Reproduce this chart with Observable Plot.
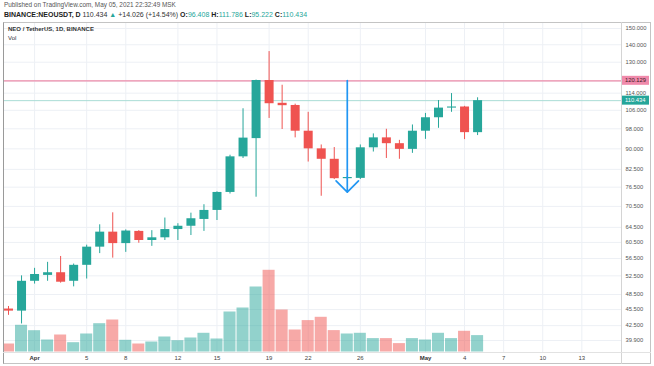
<!DOCTYPE html>
<html><head><meta charset="utf-8">
<script src="https://cdn.jsdelivr.net/npm/d3@7"></script>
<script src="https://cdn.jsdelivr.net/npm/@observablehq/plot@0.6"></script>
<style>
html,body{margin:0;padding:0;background:#fff;}
#wrap{position:relative;width:654px;height:366px;overflow:hidden;font-family:"Liberation Sans",Arial,sans-serif;}
.hdr1{position:absolute;left:4px;top:1px;font-size:6.4px;line-height:7px;color:#555;white-space:nowrap;}
.hdr2{position:absolute;left:4px;top:11px;font-size:7px;line-height:7px;color:#222;font-weight:bold;white-space:nowrap;}
.hdr2 .g{color:#26a69a;font-weight:normal;}
.hdr2 .k{font-weight:normal;color:#333;}
#frame{position:absolute;left:3px;top:22px;width:648px;height:342px;box-sizing:border-box;border:1px solid #c4c4c4;border-left-color:#9a9a9a;}
#vsep{position:absolute;left:621px;top:22px;width:1px;height:342px;background:#d4d4d4;}
#hsep{position:absolute;left:3px;top:352px;width:648px;height:1px;background:#e2e2e2;}
#price,#vol{position:absolute;left:3px;top:22px;}
.leg{position:absolute;left:8px;font-size:6px;line-height:7px;color:#333;white-space:nowrap;}
</style></head>
<body>
<div id="wrap">
  <div class="hdr1">Published on TradingView.com, May 05, 2021 22:32:49 MSK</div>
  <div class="hdr2">BINANCE:NEOUSDT, D <span class="k">110.434</span> <span class="g">▲</span> <span class="k">+14.026 (+14.54%)</span> O:<span class="g">96.408</span> H:<span class="g">111.786</span> L:<span class="g">95.222</span> C:<span class="g">110.434</span></div>
  <div id="price"></div>
  <div id="vol"></div>
  <div id="frame"></div>
  <div id="vsep"></div>
  <div id="hsep"></div>
  <div class="leg" style="top:26px;font-weight:bold;">NEO / TetherUS, 1D, BINANCE</div>
  <div class="leg" style="top:35px;">Vol</div>
</div>
<script>
// ---- data ----
const days = ["2021-03-30","2021-03-31","2021-04-01","2021-04-02","2021-04-03","2021-04-04","2021-04-05","2021-04-06","2021-04-07","2021-04-08","2021-04-09","2021-04-10","2021-04-11","2021-04-12","2021-04-13","2021-04-14","2021-04-15","2021-04-16","2021-04-17","2021-04-18","2021-04-19","2021-04-20","2021-04-21","2021-04-22","2021-04-23","2021-04-24","2021-04-25","2021-04-26","2021-04-27","2021-04-28","2021-04-29","2021-04-30","2021-05-01","2021-05-02","2021-05-03","2021-05-04","2021-05-05"];
const open  = [45.6,45.2,51.3,52.6,53.2,51.3,54.9,59.3,63.2,60.2,63.4,61.0,61.7,63.9,64.8,66.7,69.3,74.8,87.0,94.0,120.3,109.2,108.2,97.0,90.0,86.1,79.3,79.4,90.4,94.3,92.0,89.8,97.0,102.7,107.0,107.5,96.408];
const high  = [46.1,52.5,54.2,55.6,57.0,55.2,59.8,65.2,68.6,63.8,63.6,63.6,67.1,65.5,68.5,71.0,75.0,87.6,106.7,120.5,136.0,117.9,108.8,105.1,91.5,90.5,80.0,91.5,95.9,97.8,93.3,99.6,104.6,110.5,113.8,107.8,111.786];
const low   = [44.4,42.8,50.7,51.3,50.9,50.1,51.8,57.7,56.6,58.0,60.3,59.5,61.0,61.0,62.3,63.4,66.4,74.3,86.4,73.3,102.4,97.7,94.3,85.1,73.6,79.0,79.0,79.0,88.8,86.4,86.1,88.3,93.7,98.2,105.1,93.6,95.222];
const close = [45.2,51.3,52.8,53.2,51.1,54.9,59.3,63.2,60.2,63.5,61.0,61.7,63.9,64.8,66.9,69.3,74.8,87.0,94.2,120.3,109.0,108.1,97.0,90.0,86.1,79.3,79.7,90.4,94.3,92.0,89.8,97.0,102.7,107.0,107.5,96.408,110.434];
const volume = [0.90,2.77,2.23,1.30,1.80,1.03,1.90,2.93,3.30,1.27,0.90,1.10,1.60,1.23,1.50,1.97,1.40,4.10,4.50,6.60,8.27,4.30,2.30,3.24,3.57,2.24,1.90,1.97,1.44,1.44,0.94,1.44,1.30,1.97,1.44,2.17,1.74];

const priceTicks = [150,140,130,120,114,106,98,90,82.5,76.5,70.5,64.5,60.5,56.5,52.5,48.5,45.5,42.5,39.9];
const timeTickDays = ["2021-04-01","2021-04-05","2021-04-08","2021-04-12","2021-04-15","2021-04-19","2021-04-22","2021-04-26","2021-05-01","2021-05-04","2021-05-07","2021-05-10","2021-05-13"];
const timeTickLabels = ["Apr","5","8","12","15","19","22","26","May","4","7","10","13"];

const resistance = 120.129;
const lastPrice = 110.434;
const arrowDay = "2021-04-25";
const arrowFrom = 120.3, arrowTo = 74.9;

// ---- build ----
const noon = s => new Date(s + "T12:00:00Z");
const UP = "#26a69a", DOWN = "#ef5350";
const data = days.map((d, i) => ({
  date: noon(d), open: open[i], high: high[i], low: low[i], close: close[i], vol: volume[i],
  up: close[i] >= open[i]
}));
const tickDates = timeTickDays.map(noon);
const labelMap = new Map(tickDates.map((d, i) => [+d, timeTickLabels[i]]));
const monthTicks = tickDates.filter((d, i) => isNaN(+timeTickLabels[i]));
const dayTicks = tickDates.filter((d, i) => !isNaN(+timeTickLabels[i]));

const W = 648, H = 342, mR = 30, mB = 12;
const xDomain = [new Date("2021-03-30T02:47:00Z"), new Date("2021-05-16T13:05:00Z")];
const yDomain = [37.92, 153.87];
const font = "'Liberation Sans', Arial, sans-serif";

const price = Plot.plot({
  width: W, height: H,
  marginLeft: 0, marginRight: mR, marginTop: 0, marginBottom: mB,
  style: {background: "transparent", fontFamily: font, overflow: "visible"},
  x: {type: "utc", domain: xDomain},
  y: {type: "log", domain: yDomain},
  marks: [
    Plot.gridY(priceTicks, {stroke: "#edf0f5", strokeOpacity: 1}),
    Plot.gridX(tickDates, {stroke: "#edf0f5", strokeOpacity: 1}),
    Plot.ruleY([lastPrice], {stroke: "#a9dcd6", strokeWidth: 1}),
    Plot.ruleY([resistance], {stroke: "#ec8aa9", strokeWidth: 1.3}),
    Plot.ruleX(data, {x: "date", y1: "low", y2: "high", stroke: d => d.up ? UP : DOWN, strokeWidth: 1}),
    Plot.ruleX(data, {x: "date", y1: "open", y2: "close", stroke: d => d.up ? UP : DOWN, strokeWidth: 9}),
    Plot.arrow([{d: noon(arrowDay), a: arrowFrom, b: arrowTo}], {x1: "d", x2: "d", y1: "a", y2: "b", stroke: "#2196f3", strokeWidth: 1.7, headAngle: 90, headLength: 14}),
    Plot.axisY(priceTicks, {anchor: "right", tickSize: 0, tickPadding: 4, tickFormat: d3.format(".3f"), fontSize: 5.8, fill: "#555"}),
    Plot.axisX(dayTicks, {anchor: "bottom", tickSize: 0, tickPadding: 3, tickFormat: d => labelMap.get(+d), fontSize: 6, fill: "#444"}),
    Plot.axisX(monthTicks, {anchor: "bottom", tickSize: 0, tickPadding: 3, tickFormat: d => labelMap.get(+d), fontSize: 6, fontWeight: "bold", fill: "#333"})
  ]
});
document.getElementById("price").appendChild(price);

// price-axis labels for the two horizontal lines, placed with the plot's y scale
const ys = price.scale("y");
const svg = d3.select(price);
[[resistance, "#f08aab", "#3a1a24"], [lastPrice, "#26a69a", "#ffffff"]].forEach(([v, bg, fg]) => {
  const y = ys.apply(v);
  svg.append("rect").attr("x", W - mR + 1).attr("y", y - 4.5).attr("width", mR - 3).attr("height", 9).attr("fill", bg);
  svg.append("text").attr("x", W - mR + 4).attr("y", y).attr("dy", "0.35em").attr("text-anchor", "start")
    .attr("font-size", 5.8).attr("font-family", font).attr("fill", fg).text(d3.format(".3f")(v));
});

const vol = Plot.plot({
  width: W, height: H,
  marginLeft: 0, marginRight: mR, marginTop: 0, marginBottom: mB,
  style: {background: "transparent", fontFamily: font},
  x: {type: "utc", domain: xDomain, axis: null},
  y: {domain: [0, 33], axis: null},
  marks: [
    Plot.rect(data, {
      x1: d => d3.utcHour.offset(d.date, -12), x2: d => d3.utcHour.offset(d.date, 12),
      y1: 0, y2: "vol", inset: 0.5,
      fill: d => d.up ? "rgba(38,166,154,0.5)" : "rgba(239,83,80,0.5)"
    })
  ]
});
document.getElementById("vol").appendChild(vol);
</script>
</body></html>
